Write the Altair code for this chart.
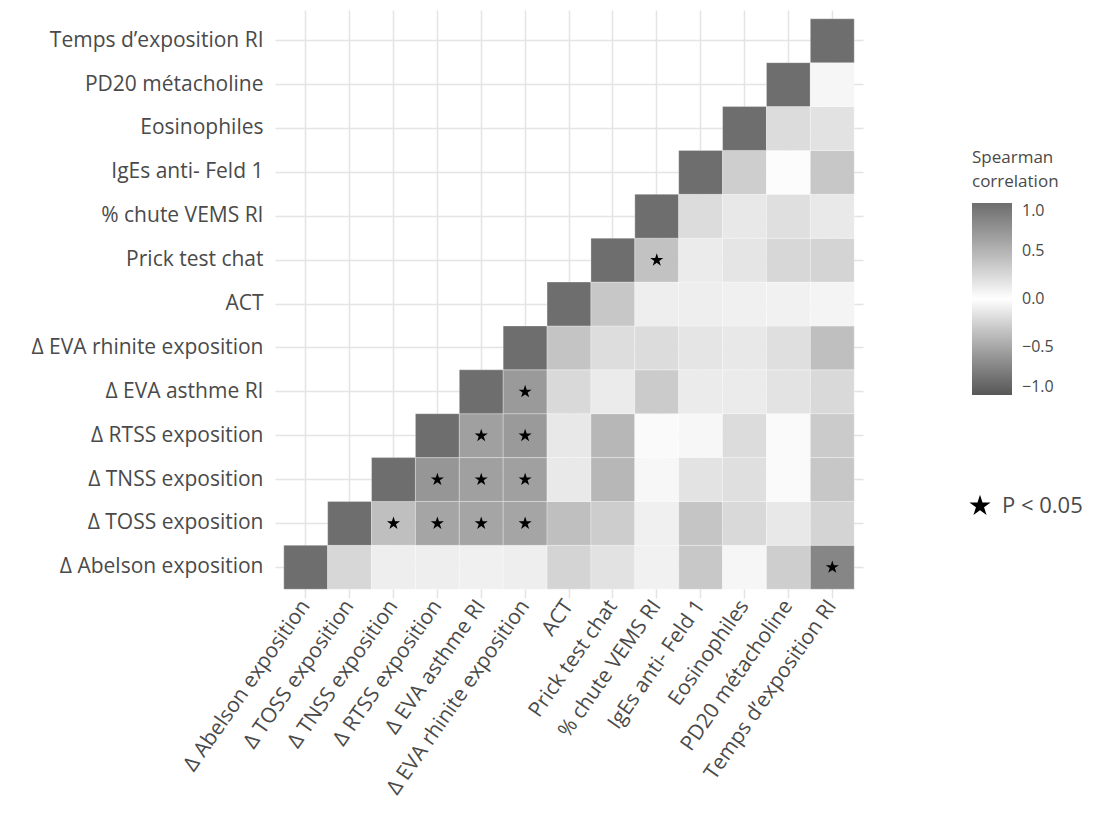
import altair as alt
import pandas as pd

variables = [
    "Δ Abelson exposition",
    "Δ TOSS exposition",
    "Δ TNSS exposition",
    "Δ RTSS exposition",
    "Δ EVA asthme RI",
    "Δ EVA rhinite exposition",
    "ACT",
    "Prick test chat",
    "% chute VEMS RI",
    "IgEs anti- Feld 1",
    "Eosinophiles",
    "PD20 métacholine",
    "Temps d’exposition RI",
]

# each row starts at the diagonal and runs to the right
r_abelson = [1.0, 0.26, 0.11, 0.11, 0.10, 0.11, 0.28, 0.19, 0.09, 0.36, 0.06, 0.32, 0.82]
r_toss = [1.0, 0.42, 0.60, 0.60, 0.60, 0.42, 0.33, 0.10, 0.38, 0.25, 0.15, 0.28]
r_tnss = [1.0, 0.71, 0.64, 0.64, 0.14, 0.48, 0.05, 0.18, 0.21, 0.03, 0.37]
r_rtss = [1.0, 0.64, 0.68, 0.15, 0.48, 0.03, 0.05, 0.23, 0.03, 0.34]
r_eva_asthme = [1.0, 0.68, 0.25, 0.13, 0.34, 0.13, 0.13, 0.18, 0.25]
r_eva_rhinite = [1.0, 0.39, 0.22, 0.23, 0.17, 0.15, 0.21, 0.42]
r_act = [1.0, 0.37, 0.11, 0.11, 0.10, 0.09, 0.07]
r_prick = [1.0, 0.40, 0.13, 0.17, 0.26, 0.28]
r_vems = [1.0, 0.23, 0.15, 0.21, 0.14]
r_ige = [1.0, 0.32, 0.02, 0.37]
r_eos = [1.0, 0.23, 0.19]
r_pd20 = [1.0, 0.06]
r_temps = [1.0]

corr_rows = [r_abelson, r_toss, r_tnss, r_rtss, r_eva_asthme, r_eva_rhinite,
             r_act, r_prick, r_vems, r_ige, r_eos, r_pd20, r_temps]

sig_row = [0, 1, 1, 1, 1, 2, 2, 2, 3, 3, 4, 7]
sig_col = [12, 2, 3, 4, 5, 3, 4, 5, 4, 5, 5, 8]

records = []
for i, row in enumerate(corr_rows):
    for k, v in enumerate(row):
        records.append({"row": variables[i], "col": variables[i + k], "rho": v})
df = pd.DataFrame(records)

sig_df = pd.DataFrame({
    "row": [variables[i] for i in sig_row],
    "col": [variables[j] for j in sig_col],
    "sig": ["P < 0.05"] * len(sig_row),
})

STAR = "M0,-1L0.2245,-0.309L0.951,-0.309L0.363,0.118L0.588,0.809L0,0.382L-0.588,0.809L-0.363,0.118L-0.951,-0.309L-0.2245,-0.309Z"
FONT = "Open Sans"
TXT = "#4a4a4a"
GRID = "#e4e4e4"

x_enc = alt.X(
    "col:N", sort=variables,
    scale=alt.Scale(paddingInner=0, paddingOuter=0.2),
    axis=alt.Axis(title=None, labelAngle=305, labelAlign="right", labelBaseline="middle",
                  ticks=False, domain=False, grid=True, gridColor=GRID, gridWidth=1.5,
                  labelFontSize=21, labelFont=FONT, labelColor=TXT, labelPadding=4,
                  labelOverlap=False, labelLimit=400, zindex=0),
)
y_enc = alt.Y(
    "row:N", sort=variables[::-1],
    scale=alt.Scale(paddingInner=0, paddingOuter=0.2),
    axis=alt.Axis(title=None, ticks=False, domain=False, grid=True, gridColor=GRID,
                  gridWidth=1.5, labelFontSize=21, labelFont=FONT, labelColor=TXT,
                  labelPadding=12, labelOverlap=False, labelLimit=400, zindex=0),
)

rect = alt.Chart(df).mark_rect(stroke="white", strokeWidth=0.3).encode(
    x=x_enc, y=y_enc,
    color=alt.Color(
        "rho:Q",
        scale=alt.Scale(domain=[-1, 0, 1], range=["#575757", "#ffffff", "#6e6e6e"]),
        legend=alt.Legend(
            title=["Spearman", "correlation"], orient="none", legendX=697, legendY=140,
            gradientLength=192, gradientThickness=40, values=[-1, -0.5, 0, 0.5, 1],
            format=".1f", titleFontSize=17, titleFontWeight="normal", titleFont=FONT,
            titleColor=TXT, titleLineHeight=24, titlePadding=12,
            labelFontSize=16, labelFont=FONT, labelColor=TXT, labelOffset=10,
            gradientStrokeWidth=0,
        ),
    ),
)

stars = alt.Chart(sig_df).mark_point(filled=True, color="black", opacity=1, size=190).encode(
    x=alt.X("col:N", sort=variables),
    y=alt.Y("row:N", sort=variables[::-1]),
    shape=alt.Shape(
        "sig:N", scale=alt.Scale(range=[STAR]),
        legend=alt.Legend(title=None, orient="none", legendX=693, legendY=484,
                          symbolSize=500, symbolFillColor="black", symbolStrokeColor="black",
                          labelFontSize=22, labelFont=FONT, labelColor=TXT, labelOffset=10),
    ),
)

chart = alt.layer(rect, stars).properties(
    width=588, height=588,
    autosize=alt.AutoSizeParams(type="none"),
    padding={"left": 267, "top": 2, "right": 240, "bottom": 222},
).configure_view(stroke=None)

chart.save("out.html", embed_options={"renderer": "svg", "actions": False})
